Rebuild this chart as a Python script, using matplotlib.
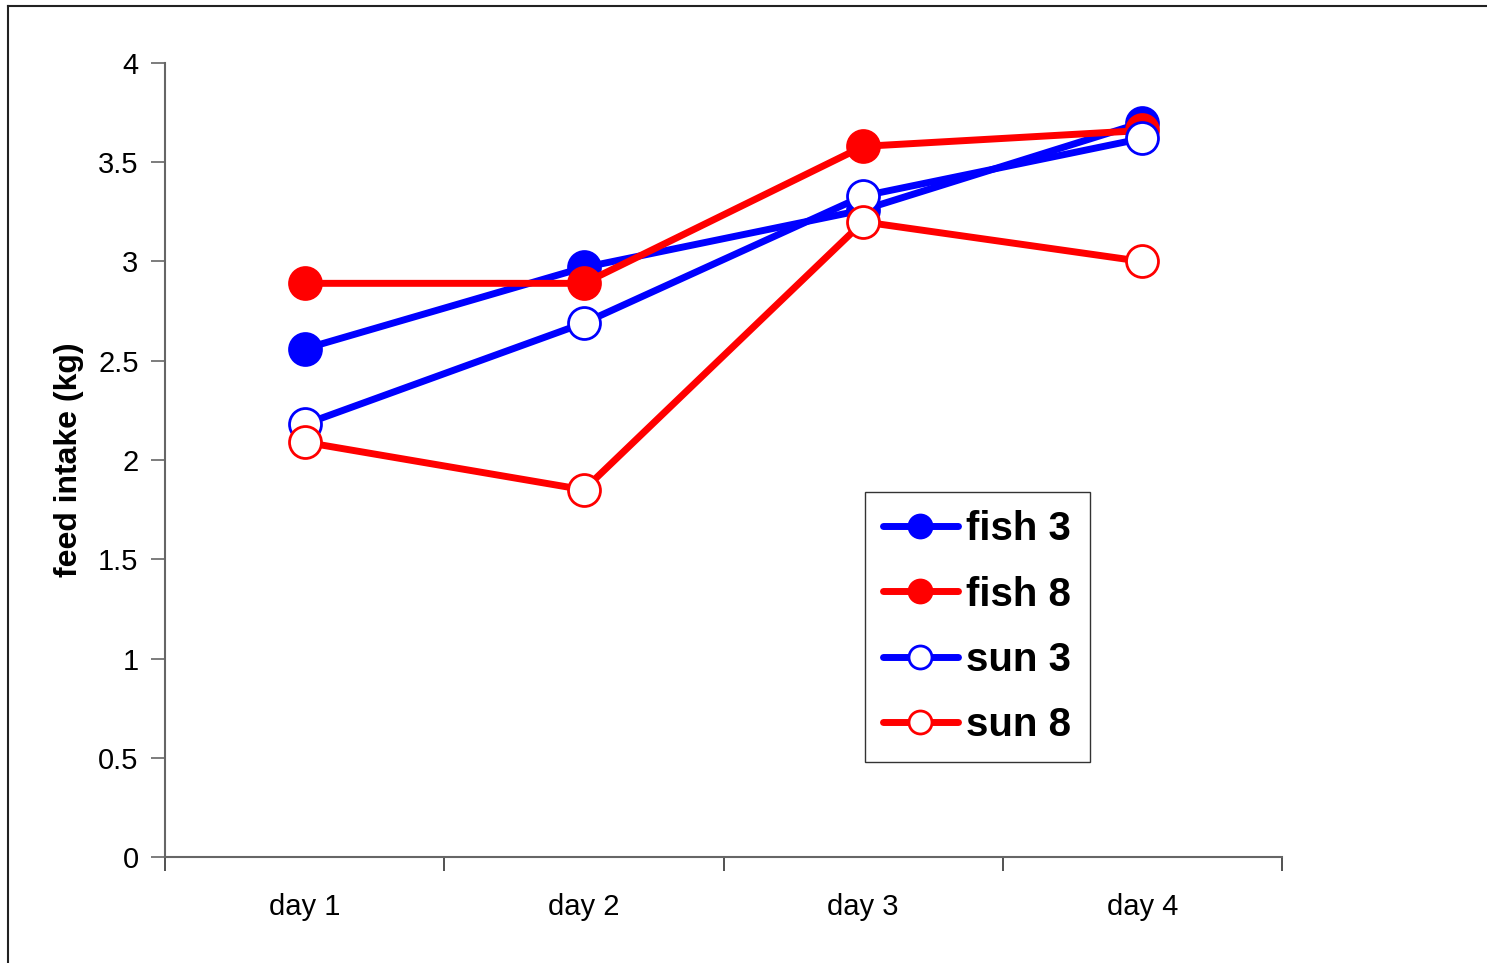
import matplotlib
matplotlib.use("Agg")
import matplotlib.pyplot as plt
from matplotlib.lines import Line2D

plt.rcParams['font.family'] = ['Liberation Sans', 'DejaVu Sans']

days = ["day 1", "day 2", "day 3", "day 4"]
fish3 = [2.56, 2.97, 3.26, 3.70]
fish8 = [2.89, 2.89, 3.58, 3.66]
sun3 = [2.18, 2.69, 3.33, 3.62]
sun8 = [2.09, 1.85, 3.20, 3.00]
yticks = [0, 0.5, 1, 1.5, 2, 2.5, 3, 3.5, 4]
ytick_labels = ["0", "0.5", "1", "1.5", "2", "2.5", "3", "3.5", "4"]

W, H = 1487, 963
fig = plt.figure(figsize=(W / 100, H / 100), dpi=100)
ax = fig.add_axes([165 / W, 1 - 857 / H, (1282 - 165) / W, (857 - 63) / H])

x = list(range(len(days)))
series = [
    ("fish 3", fish3, "#0000FF", "#0000FF"),
    ("fish 8", fish8, "#FF0000", "#FF0000"),
    ("sun 3", sun3, "#0000FF", "white"),
    ("sun 8", sun8, "#FF0000", "white"),
]
for label, vals, col, face in series:
    ax.plot(x, vals, color=col, lw=5, marker="o", markersize=23,
            markerfacecolor=face, markeredgecolor=col, markeredgewidth=2,
            label=label, solid_capstyle="round")

ax.set_xlim(-0.5, len(days) - 0.5)
ax.set_ylim(0, 4)

# category boundaries carry the tick marks, centres carry the labels
ax.set_xticks([i - 0.5 for i in range(len(days) + 1)])
ax.set_xticklabels([])
ax.set_xticks(x, minor=True)
ax.set_xticklabels(days, minor=True, fontsize=21)
ax.tick_params(axis="x", which="major", direction="out", length=10,
               width=1.2, color="#333333")
ax.tick_params(axis="x", which="minor", length=0, pad=26)

ax.set_yticks(yticks)
ax.set_yticklabels(ytick_labels, fontsize=21)
ax.tick_params(axis="y", direction="out", length=10, width=1.2,
               color="#666666", pad=9)

for s in ("top", "right"):
    ax.spines[s].set_visible(False)
for s in ("left", "bottom"):
    ax.spines[s].set_color("#666666")
    ax.spines[s].set_linewidth(1.5)

ax.set_ylabel("feed intake (kg)", fontsize=23, fontweight="bold", labelpad=10)

leg = ax.legend(loc="upper left", bbox_to_anchor=(865 / W, 1 - 492 / H),
                bbox_transform=fig.transFigure, frameon=True, fancybox=False,
                edgecolor="black", borderpad=0.45, handlelength=1.85,
                handletextpad=0.22, labelspacing=0.68, markerscale=0.72,
                prop={"size": 29, "weight": "bold"}, borderaxespad=0)
leg.get_frame().set_linewidth(1.0)

# outer chart frame (left and top edges)
fig.add_artist(Line2D([8 / W, 8 / W], [0, 1 - 6 / H], transform=fig.transFigure,
                      color="#222222", lw=1.5))
fig.add_artist(Line2D([8 / W, 1], [1 - 6 / H, 1 - 6 / H], transform=fig.transFigure,
                      color="#222222", lw=1.5))

fig.savefig("out.png", dpi=100, facecolor="white")
